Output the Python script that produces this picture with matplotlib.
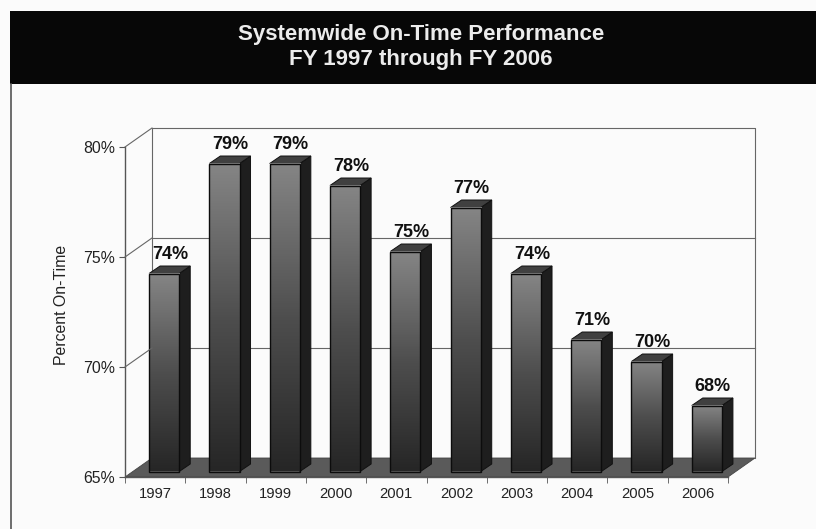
import matplotlib
matplotlib.use("Agg")
import matplotlib.pyplot as plt
import numpy as np
from matplotlib.patches import Polygon, Rectangle
from matplotlib.transforms import ScaledTranslation

years = ["1997","1998","1999","2000","2001","2002","2003","2004","2005","2006"]
values = [74,79,79,78,75,77,74,71,70,68]
y_ticks = [65,70,75,80]
title_lines = "Systemwide On-Time Performance\nFY 1997 through FY 2006"
y_label = "Percent On-Time"

W, H = 816, 529
BG = "#fbfbfb"
plt.rcParams["font.family"] = ["Liberation Sans", "DejaVu Sans"]
fig = plt.figure(figsize=(W/100, H/100), dpi=100, facecolor=BG)

# page furniture
fig.add_artist(Rectangle((10/W, 1-84/H), 1, 73/H, transform=fig.transFigure, fc="#070707", ec="none"))
fig.add_artist(plt.Line2D([10.5/W, 10.5/W], [0, 1-84/H], color="#555555", lw=1.2))
fig.text(421/W, 1-47/H, title_lines, color="#ececec", fontsize=16, fontweight="bold",
         ha="center", va="center", linespacing=1.2)

L, R, T, B = 125, 728, 147, 477
ax = fig.add_axes([L/W, 1-B/H, (R-L)/W, (B-T)/H])
ax.set_xlim(-0.5, 9.5)
ax.set_ylim(65, 80)
ax.patch.set_alpha(0)
for s in ("top", "right"):
    ax.spines[s].set_visible(False)
for s in ("left", "bottom"):
    ax.spines[s].set_color("#555555")
    ax.spines[s].set_linewidth(1.0)
ax.set_yticks(y_ticks)
ax.set_yticklabels([f"{v}%" for v in y_ticks], fontsize=11.4, color="#222222")
ax.set_xticks(np.arange(10))
ax.set_xticklabels(years, fontsize=10.6, color="#222222")
ax.tick_params(axis="x", length=0, pad=7.5)
ax.set_xticks(np.arange(-0.5, 10, 1), minor=True)
ax.tick_params(axis="x", which="minor", length=4, color="#555555")
ax.tick_params(axis="y", length=4, color="#555555", pad=3)
fig.text(62/W, 1-305/H, y_label, rotation=90, fontsize=11.4, color="#222222", ha="center", va="center")

def off(dx, dy):
    return ax.transData + ScaledTranslation(dx/100, dy/100, fig.dpi_scale_trans)

DX, DY = 27, 19
back = off(DX, DY)
x0, x1 = -0.5, 9.5
wall = "#666666"
# back wall + side wall
ax.plot([x0, x0, x1, x1], [65, 80, 80, 65], color=wall, lw=0.8, transform=back, clip_on=False, zorder=1)
for v in y_ticks[1:-1]:
    ax.plot([x0, x1], [v, v], color=wall, lw=0.8, transform=back, clip_on=False, zorder=1)

def to_disp(x, y, dx=0, dy=0):
    return off(dx, dy).transform((x, y))

inv = fig.transFigure.inverted()
for v in y_ticks[1:]:
    p0, p1 = to_disp(x0, v), to_disp(x0, v, DX, DY)
    fig.add_artist(plt.Line2D(*zip(inv.transform(p0), inv.transform(p1)), color=wall, lw=0.8, zorder=1))

# floor
pts = [to_disp(x0, 65), to_disp(x1, 65), to_disp(x1, 65, DX, DY), to_disp(x0, 65, DX, DY)]
ax.add_patch(Polygon(pts, closed=True, transform=None, fc="#5a5a5a", ec="#444444", lw=0.6, zorder=2, clip_on=False))

# bars
BOX_DX, BOX_DY = 9, 5.5
BAR_W = 0.5
SD_X, SD_Y = 11, 7.5
grad = np.linspace(0, 1, 128).reshape(-1, 1)
cmap_front = matplotlib.colors.LinearSegmentedColormap.from_list("f", ["#858585", "#4e4e4e", "#262626"])
front_tr = off(BOX_DX, BOX_DY)
for i, v in enumerate(values):
    xl, xr = i - BAR_W/2, i + BAR_W/2
    ax.imshow(grad, extent=(xl, xr, 65, v), origin="upper", cmap=cmap_front, vmin=0, vmax=1,
              aspect="auto", transform=front_tr, zorder=5, clip_on=False)
    ax.set_xlim(-0.5, 9.5)
    ax.set_ylim(65, 80)
    ax.add_patch(Rectangle((xl, 65), BAR_W, v-65, transform=front_tr, fc="none", ec="#0c0c0c", lw=1.0, zorder=6, clip_on=False))
    a = to_disp(xr, 65, BOX_DX, BOX_DY); b = to_disp(xr, v, BOX_DX, BOX_DY)
    c = to_disp(xl, v, BOX_DX, BOX_DY)
    side = [a, b, b + [SD_X, SD_Y], a + [SD_X, SD_Y]]
    top = [c, b, b + [SD_X, SD_Y], c + [SD_X, SD_Y]]
    ax.add_patch(Polygon(side, transform=None, fc="#1e1e1e", ec="#111111", lw=0.7, zorder=4, clip_on=False))
    ax.add_patch(Polygon(top, transform=None, fc="#404040", ec="#111111", lw=0.7, zorder=4, clip_on=False))
    ax.text(i, v, f"{v}%", transform=off(BOX_DX+6, BOX_DY+19), ha="center", va="center",
            fontsize=13, fontweight="bold", color="#111111", zorder=8, clip_on=False)
fig.savefig("out.png", dpi=100, facecolor=BG)
